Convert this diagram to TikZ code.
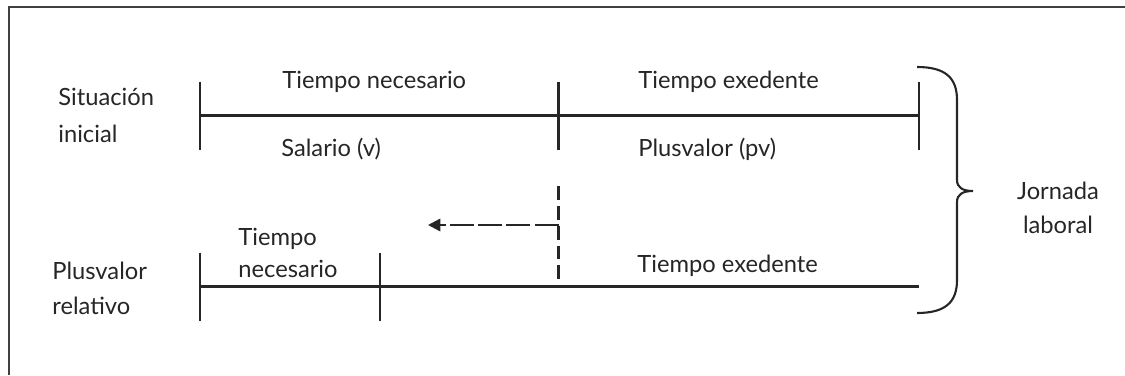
\documentclass[tikz,border=0pt]{standalone}
\usepackage{fontspec}
\setmainfont{Lato}
\usetikzlibrary{arrows.meta}
\begin{document}
\begin{tikzpicture}[
    seg/.style={line width=1.4pt, black!85},
    txt/.style={font=\fontsize{13.5}{17.6}\selectfont, inner sep=0pt, text=black!85},
  ]
  \useasboundingbox (0,0) rectangle (22.5,7.5);
  % Frame
  \draw[line width=1pt, black!75] (0.18,0) -- (0.18,7.36) -- (22.5,7.36);
  % Tick positions
  \coordinate (s0) at (4,5.19);
  \coordinate (s1) at (11.17,5.19);
  \coordinate (s2) at (18.38,5.19);
  \coordinate (r0) at (4,1.77);
  \coordinate (r1) at (7.6,1.77);
  \coordinate (r2) at (18.38,1.77);
  % Time lines
  \draw[seg] (s0) -- (s2);
  \draw[seg] (r0) -- (r2);
  \foreach \p in {s0,s1,s2,r0,r1}
    \draw[seg] ([yshift=0.68cm]\p) -- ([yshift=-0.68cm]\p);
  % Shift of the boundary
  \coordinate (d0) at (11.17,3.78);
  \coordinate (d1) at (11.17,1.86);
  \coordinate (a0) at (11.17,3.0);
  \coordinate (a1) at (8.56,3.0);
  \draw[seg, dash pattern=on 7.9pt off 3.4pt] (d0) -- (d1);
  \draw[seg, dash pattern=on 13.6pt off 2.4pt, -{Triangle[length=7pt,width=7pt]}] (a0) -- (a1);
  % Brace
  \draw[line width=1.2pt, black!85] (18.34,6.16) .. controls (18.9,6.16) and (19.14,5.95) .. (19.14,5.5)
    -- (19.14,3.9) .. controls (19.14,3.75) and (19.25,3.68) .. (19.46,3.68)
    .. controls (19.25,3.68) and (19.14,3.61) .. (19.14,3.46)
    -- (19.14,1.9) .. controls (19.14,1.45) and (18.9,1.24) .. (18.34,1.24);
  % Labels
  \node[txt, anchor=base west, align=left] (ini) at (1.16,4.66) {Situación\\[3pt]inicial};
  \node[txt, anchor=base west] (tn1) at (5.64,5.72) {Tiempo necesario};
  \node[txt, anchor=base west] (te1) at (12.76,5.72) {Tiempo exedente};
  \node[txt, anchor=base west] (sal) at (5.62,4.38) {Salario (v)};
  \node[txt, anchor=base west] (pv) at (12.76,4.38) {Plusvalor (pv)};
  \node[txt, anchor=base west, align=left] (rel) at (1.04,1.22) {Plusvalor\\[2pt]relativo};
  \node[txt, anchor=base west, align=left] (tn2) at (4.76,1.96) {Tiempo\\[0.5pt]necesario};
  \node[txt, anchor=base west] (te2) at (12.74,2.06) {Tiempo exedente};
  \node[txt, anchor=base, align=center] (jor) at (21.16,2.83) {Jornada\\[2pt]laboral};
\end{tikzpicture}
\end{document}
